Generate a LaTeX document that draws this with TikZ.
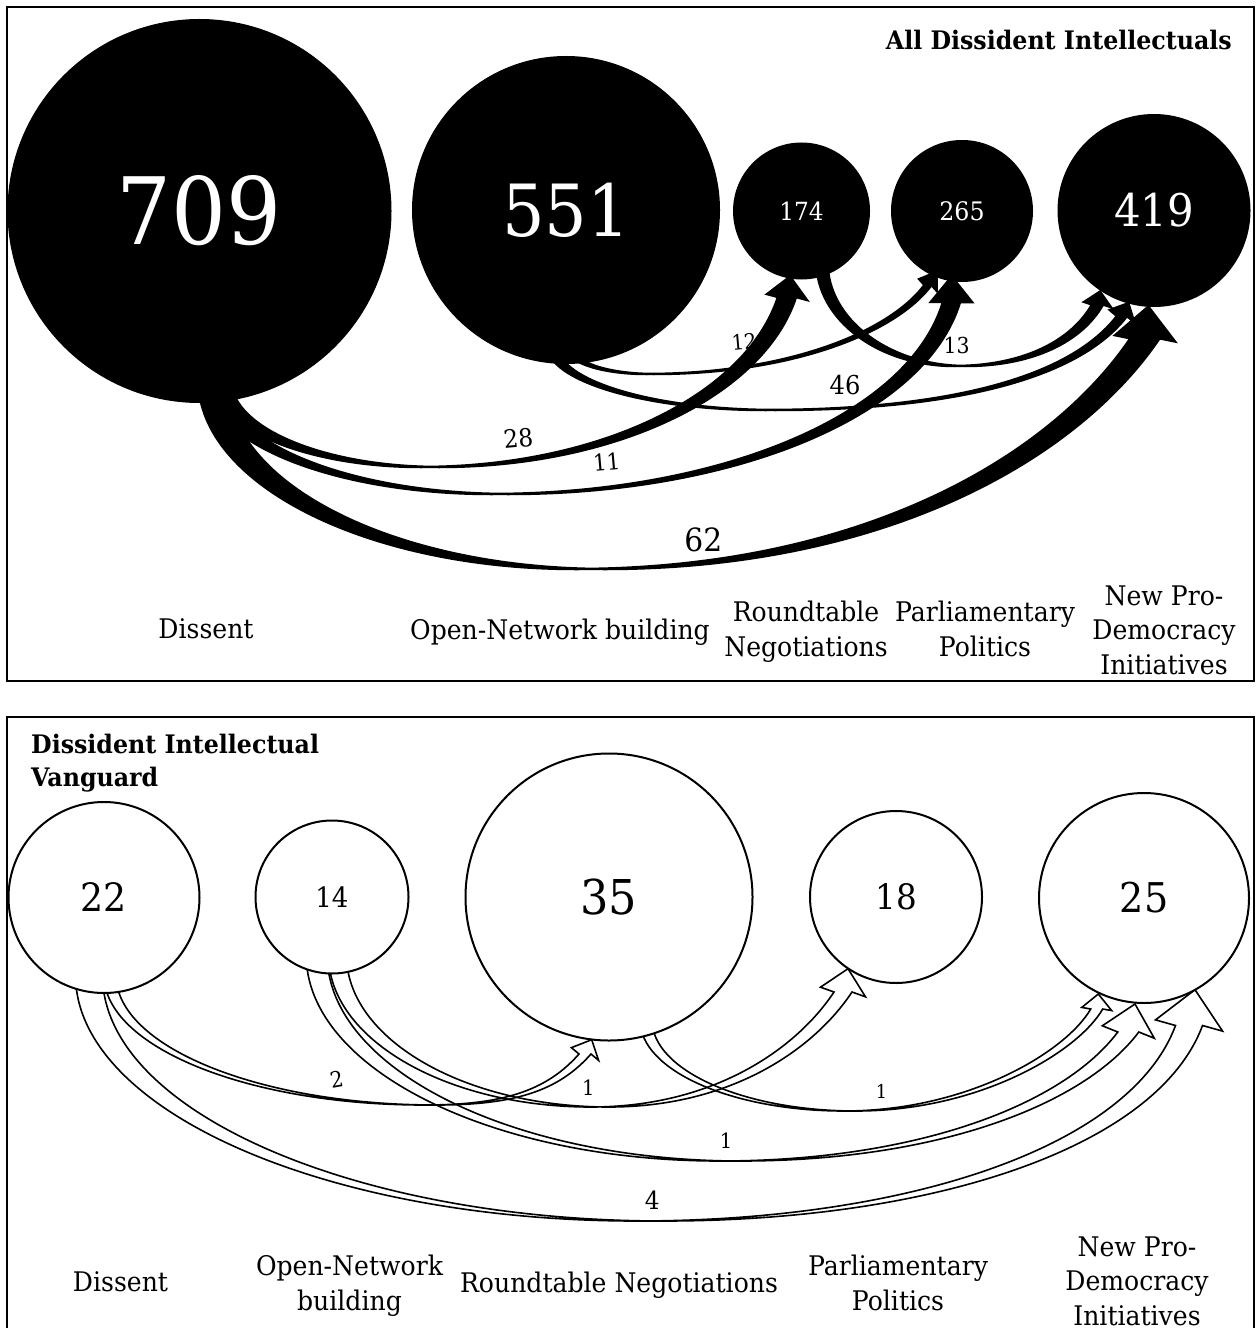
\documentclass[tikz,border=0pt]{standalone}
\usepackage{fontspec}
\setmainfont{DejaVu Serif}[FakeStretch=0.93]
\usetikzlibrary{calc,backgrounds}
\newcommand{\fsz}[2]{\fontsize{#1bp}{#2bp}\selectfont}
% band arrow: #1 style, #2 start, #3 lowest point, #4 last control, #5 head base centre,
% #6 half horizontal offset of the band, #7 half head width, #8 tip
\newcommand{\bandarrow}[8]{%
  \path[#1] let \p1=(#2), \p2=(#3), \p3=(#4), \p4=(#5), \p5=(#8),
    \n1={veclen(\x5-\x4,\y5-\y4)},
    \n2={(\x5-\x4)/\n1}, \n3={(\y5-\y4)/\n1}
  in ({\x1-#6bp},\y1)
  .. controls ({\x1-#6bp},{\y1+0.552*(\y2-\y1)}) and ({\x2-#6bp-0.552*(\x2-\x1)},\y2) .. ({\x2-#6bp},\y2)
  .. controls ({\x2-#6bp+0.5*(\x4-\x2)},\y2) and ({\x3-#6bp},\y3) .. ({\x4-#6bp},\y4)
  -- ({\x4-#7*\n3*1bp},{\y4+#7*\n2*1bp})
  -- (\p5)
  -- ({\x4+#7*\n3*1bp},{\y4-#7*\n2*1bp})
  -- ({\x4+#6bp},\y4)
  .. controls ({\x3+#6bp},\y3) and ({\x2+#6bp+0.5*(\x4-\x2)},\y2) .. ({\x2+#6bp},\y2)
  .. controls ({\x2+#6bp-0.552*(\x2-\x1)},\y2) and ({\x1+#6bp},{\y1+0.552*(\y2-\y1)}) .. ({\x1+#6bp},\y1)
  -- cycle;}
\begin{document}
\begin{tikzpicture}[x=1bp,y=-1bp,
  topcirc/.style={circle, fill=black, inner sep=0pt, outer sep=0pt, text=white},
  botcirc/.style={circle, draw=black, line width=2bp, fill=white, inner sep=0pt, outer sep=0pt},
  lbl/.style={align=center, inner sep=0pt, anchor=north, font=\fsz{27}{34.5}},
  elbl/.style={inner sep=0pt},
  ttl/.style={inner sep=0pt, font=\bfseries\fsz{25.5}{32.5}},
  topband/.style={fill=black, draw=black, line width=2.5bp},
  botband/.style={draw=black, line width=1.6bp},
  frame/.style={draw=black, line width=2bp}]
\useasboundingbox (0,0) rectangle (1257,1328);
\clip (0,0) rectangle (1257,1328);

% ---------- nodes (top panel) ----------
\node[topcirc, minimum size=384bp, font=\fsz{93}{100}] (n709) at (199.5,211) {709};
\node[topcirc, minimum size=308bp, font=\fsz{72}{80}] (n551) at (566,210) {551};
\node[topcirc, minimum size=137bp, font=\fsz{25}{30}] (n174) at (801.5,211) {174};
\node[topcirc, minimum size=142bp, font=\fsz{25.5}{30}] (n265) at (962,211) {265};
\node[topcirc, minimum size=193bp, font=\fsz{45}{50}] (n419) at (1154,210.5) {419};

% ---------- nodes (bottom panel) ----------
\node[botcirc, minimum size=191bp, font=\fsz{39}{44}] (v22) at (104,897.5) {22};
\node[botcirc, minimum size=153bp, font=\fsz{28}{32}] (v14) at (332,897) {14};
\node[botcirc, minimum size=287bp, font=\fsz{48}{52}] (v35) at (609,897) {35};
\node[botcirc, minimum size=172bp, font=\fsz{35}{40}] (v18) at (896,897) {18};
\node[botcirc, minimum size=210bp, font=\fsz{41}{46}] (v25) at (1144,898) {25};

\begin{pgfonlayer}{background}
\fill[white] (0,0) rectangle (1257,1328);
\path[frame] (7,7.5) rectangle (1254,680.5);
\path[frame] (7,1345) -- (7,717) -- (1254,717) -- (1254,1345);

% ---------- connectors (top panel) ----------
\bandarrow{topband}{$(n709.south)+(13.5,-23)$}{590,569}{1060.9,462.2}{$(n419.south)+(-9,31.3)$}{14.5}{30}{$(n419.south)+(-5.7,-0.3)$}
\bandarrow{topband}{$(n709.south)+(15.5,-23)$}{500,494}{916.7,416.8}{$(n265.south)+(-10.5,20)$}{8.5}{20.5}{$(n265.south)+(-10.3,-5.3)$}
\bandarrow{topband}{$(n709.south)+(22.5,-23)$}{430,467}{755,395}{$(n174.south)+(-14.5,17.5)$}{9}{20}{$(n174.south)+(-11.5,-2.8)$}
\bandarrow{topband}{$(n551.south)+(6,-14)$}{650,374}{892,333}{$(n265.south)+(-34,3)$}{3.5}{10.5}{$(n265.south)+(-25.3,-10)$}
\bandarrow{topband}{$(n551.south)+(-14,-19)$}{770,410}{1073,380}{$(n419.south)+(-32,9)$}{5}{13.5}{$(n419.south)+(-25.7,-3.7)$}
\bandarrow{topband}{$(n174.south)+(20.5,-17.5)$}{960,366}{1077,340.8}{$(n419.south)+(-56.5,-2.5)$}{5.5}{13.5}{$(n419.south)+(-54,-15.3)$}

% ---------- connectors (bottom panel) ----------
\bandarrow{botband}{$(v22.south)+(6,-18)$}{430,1105}{552,1091.5}{$(v35.south)+(-24,13.5)$}{6}{15}{$(v35.south)+(-17.3,-0.8)$}
\bandarrow{botband}{$(v14.south)+(5.5,-18.5)$}{600,1107}{804.5,1050}{$(v18.south)+(-53,9)$}{9}{23}{$(v18.south)+(-48,-14.3)$}
\bandarrow{botband}{$(v35.south)+(37,-20.5)$}{850,1111}{1071.7,1052.2}{$(v25.south)+(-47.3,6)$}{6}{15}{$(v25.south)+(-45.7,-9)$}
\bandarrow{botband}{$(v14.south)+(-15.3,-18.5)$}{730,1161}{1074.3,1104}{$(v25.south)+(-15.7,29)$}{10.5}{26.7}{$(v25.south)+(-9,1)$}
\bandarrow{botband}{$(v22.south)+(-15,-18)$}{650,1221}{1143.5,1147.7}{$(v25.south)+(45,22.5)$}{13.5}{34}{$(v25.south)+(51,-13.3)$}
\end{pgfonlayer}

% ---------- connector labels ----------
\node[elbl, font=\fsz{25}{30}, rotate=5] (l28) at (518.3,438.3) {28};
\node[elbl, font=\fsz{23}{28}, rotate=5] (l11) at (606.7,462) {11};
\node[elbl, font=\fsz{21}{26}, rotate=5] (l12) at (744,341.7) {12};
\node[elbl, font=\fsz{22}{26}] (l13) at (956.7,345) {13};
\node[elbl, font=\fsz{26}{30}] (l46) at (845,385) {46};
\node[elbl, font=\fsz{32}{36}] (l62) at (703.3,540) {62};

\node[elbl, font=\fsz{22}{26}, rotate=10] (l2) at (336.7,1079.7) {2};
\node[elbl, font=\fsz{21}{26}] (l1a) at (588.3,1088) {1};
\node[elbl, font=\fsz{19}{24}] (l1b) at (881.5,1091) {1};
\node[elbl, font=\fsz{21}{26}] (l1c) at (726,1141) {1};
\node[elbl, font=\fsz{25}{30}] (l4) at (652.3,1200) {4};

% ---------- titles and category labels ----------
\node[ttl, anchor=east] (t1) at (1232,40) {All Dissident Intellectuals};
\node[ttl, anchor=north west, align=left] (t2) at (31,734) {Dissident Intellectual\\Vanguard};

\node[lbl] (d1) at (206,618.5) {Dissent};
\node[lbl] (o1) at (560,618.5) {Open-Network building};
\node[lbl] (r1) at (806,601) {Roundtable\\Negotiations};
\node[lbl] (p1) at (985,601) {Parliamentary\\Politics};
\node[lbl] (nd1) at (1164,585.5) {New Pro-\\Democracy\\Initiatives};

\node[lbl] (d2) at (120.5,1271.5) {Dissent};
\node[lbl] (o2) at (349.5,1255.2) {Open-Network\\building};
\node[lbl] (r2) at (619,1271.5) {Roundtable Negotiations};
\node[lbl] (p2) at (898,1255.2) {Parliamentary\\Politics};
\node[lbl] (nd2) at (1137,1236.5) {New Pro-\\Democracy\\Initiatives};
\end{tikzpicture}
\end{document}
